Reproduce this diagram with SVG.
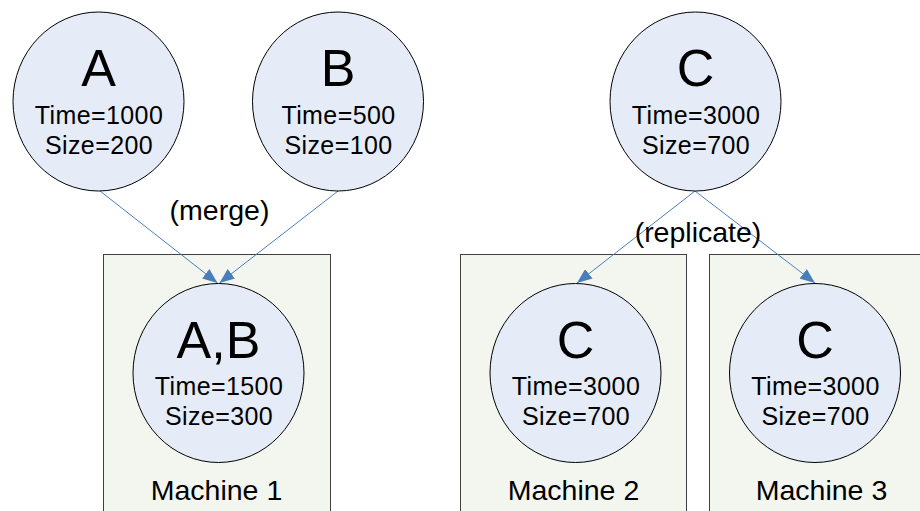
<svg xmlns="http://www.w3.org/2000/svg" width="920" height="511" viewBox="0 0 920 511">
  <style>
    .machine { fill: #f3f6ef; stroke: #404040; stroke-width: 1; }
    .task { fill: #e6ecf7; stroke: #000000; stroke-width: 1; }
    .name { font-family: "Liberation Sans", Arial, sans-serif; font-size: 52px; fill: #000; text-anchor: middle; }
    .stat { font-family: "Liberation Sans", Arial, sans-serif; font-size: 25px; letter-spacing: 0.4px; fill: #000; text-anchor: middle; }
    .label { font-family: "Liberation Sans", Arial, sans-serif; font-size: 28.5px; fill: #000; text-anchor: middle; }
    .edge { stroke: #4a7ebb; stroke-width: 1; fill: none; marker-end: url(#arrow); }
  </style>
  <defs>
    <marker id="arrow" viewBox="0 0 15 12" refX="15" refY="6" markerWidth="15" markerHeight="12" markerUnits="userSpaceOnUse" orient="auto">
      <path d="M0,0 L15,6 L0,12 Z" fill="#4a7ebb"/>
    </marker>
  </defs>
  <rect width="920" height="511" fill="#ffffff"/>

  <!-- machines -->
  <g id="machine1">
    <rect class="machine" x="103.5" y="254.5" width="227" height="270"/>
    <text class="label" x="216.5" y="500">Machine 1</text>
  </g>
  <g id="machine2">
    <rect class="machine" x="460.5" y="254.5" width="226" height="270"/>
    <text class="label" x="573.5" y="500">Machine 2</text>
  </g>
  <g id="machine3">
    <rect class="machine" x="709.5" y="254.5" width="226" height="270"/>
    <text class="label" x="821.5" y="500">Machine 3</text>
  </g>

  <!-- connectors -->
  <g id="connectors">
    <line class="edge" x1="100" y1="191" x2="217.5" y2="283"/>
    <line class="edge" x1="338" y1="191" x2="219.5" y2="283"/>
    <line class="edge" x1="695" y1="191" x2="577" y2="283"/>
    <line class="edge" x1="695" y1="191" x2="815" y2="283"/>
    <text class="label" x="219.5" y="220">(merge)</text>
    <text class="label" x="698" y="242">(replicate)</text>
  </g>

  <!-- tasks -->
  <g id="taskA">
    <ellipse class="task" cx="98.5" cy="101.5" rx="85.5" ry="89.5"/>
    <text class="name" x="98.5" y="86">A</text>
    <text class="stat" x="99" y="123.5">Time=1000</text>
    <text class="stat" x="99" y="153.5">Size=200</text>
  </g>
  <g id="taskB">
    <ellipse class="task" cx="338" cy="101.5" rx="85.5" ry="89.5"/>
    <text class="name" x="338" y="86">B</text>
    <text class="stat" x="338.5" y="123.5">Time=500</text>
    <text class="stat" x="338.5" y="153.5">Size=100</text>
  </g>
  <g id="taskC">
    <ellipse class="task" cx="695.5" cy="101.5" rx="85.5" ry="89.5"/>
    <text class="name" x="695.5" y="86">C</text>
    <text class="stat" x="696" y="123.5">Time=3000</text>
    <text class="stat" x="696" y="153.5">Size=700</text>
  </g>
  <g id="taskAB">
    <ellipse class="task" cx="218.5" cy="373" rx="85.5" ry="89.5"/>
    <text class="name" x="218.5" y="358">A,B</text>
    <text class="stat" x="219" y="395">Time=1500</text>
    <text class="stat" x="219" y="425">Size=300</text>
  </g>
  <g id="taskC2">
    <ellipse class="task" cx="575.5" cy="373" rx="85.5" ry="89.5"/>
    <text class="name" x="575.5" y="358">C</text>
    <text class="stat" x="576" y="395">Time=3000</text>
    <text class="stat" x="576" y="425">Size=700</text>
  </g>
  <g id="taskC3">
    <ellipse class="task" cx="815" cy="373" rx="85.5" ry="89.5"/>
    <text class="name" x="815" y="358">C</text>
    <text class="stat" x="815.5" y="395">Time=3000</text>
    <text class="stat" x="815.5" y="425">Size=700</text>
  </g>
</svg>
